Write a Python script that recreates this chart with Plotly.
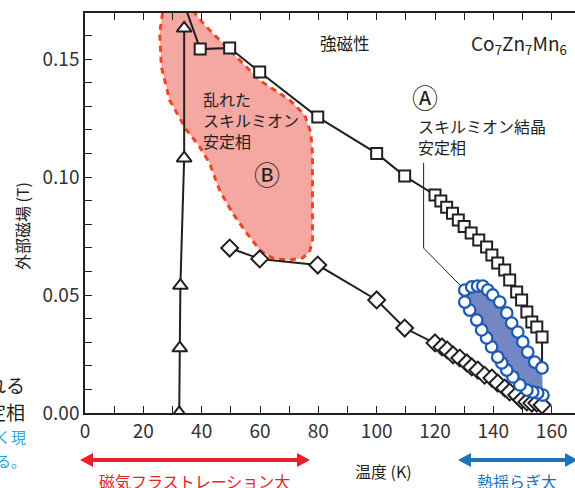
import plotly.graph_objects as go

# ---------------- data ----------------
tri_T = [32.3, 32.5, 32.7, 34.0, 34.0]
tri_H = [0.0, 0.0275, 0.054, 0.108, 0.163]

sq_T = [33.5, 39.5, 49.6, 59.9, 79.8, 100.0, 109.6, 120.0, 122.0, 124.0, 126.0, 128.0, 130.0,
        132.4, 135.0, 137.7, 139.5, 141.5, 143.9, 145.6, 148.0, 149.7, 151.5, 153.2, 154.9, 156.7]
sq_H = [0.175, 0.1542, 0.1547, 0.1445, 0.1254, 0.110, 0.1004, 0.0924, 0.0898, 0.0872, 0.0846, 0.0818, 0.0790,
        0.0763, 0.0733, 0.0703, 0.0670, 0.0636, 0.0606, 0.0564, 0.0513, 0.0479, 0.0428, 0.0386, 0.0364, 0.0322]
sq_tail_T = [156.7, 156.7]
sq_tail_H = [0.0322, 0.019]

dm_T = [49.6, 59.9, 79.8, 100.0, 109.6, 120.0, 122.4, 124.2, 126.2, 128.5, 130.9, 132.6, 134.7, 137.0,
        139.5, 141.5, 143.9, 145.6, 148.0, 149.7, 151.5, 153.2, 154.9, 156.7]
dm_H = [0.0699, 0.0653, 0.0627, 0.0479, 0.0360, 0.0297, 0.0280, 0.0267, 0.0246, 0.0233, 0.0212, 0.0195, 0.0182, 0.0160,
        0.0148, 0.0127, 0.0106, 0.0089, 0.0076, 0.0055, 0.0047, 0.0042, 0.0042, 0.0034]

ci_T = [130.2, 132.6, 134.6, 136.4, 138.1, 139.8, 142.2, 144.6, 146.3, 148.4, 150.1, 151.8, 154.2, 156.7,
        157.0, 155.2, 153.5, 151.5, 149.1, 146.7, 144.6, 142.9, 141.5, 139.4, 137.7, 136.0, 134.3, 131.9, 130.2]
ci_H = [0.0521, 0.0534, 0.0538, 0.0538, 0.0521, 0.0500, 0.0470, 0.0424, 0.0381, 0.0343, 0.0301, 0.0258, 0.0216, 0.0191,
        0.0076, 0.0085, 0.0089, 0.0097, 0.0119, 0.0153, 0.0182, 0.0212, 0.0237, 0.0280, 0.0318, 0.0352, 0.0394, 0.0436, 0.0470]

# disordered skyrmion region (B) outline
rb_T = [26.6, 25.6, 26.2, 29.0, 34.8, 38.9, 42.7, 46.1, 50.6, 55.4, 59.9, 62.3, 65.0, 70.2, 74.6, 77.0,
        78.0, 78.0, 78.0, 78.0, 77.4, 75.3, 70.2, 59.9, 51.3, 46.1, 41.0, 36.0, 34.0, 27.0, 26.6]
rb_H = [0.1695, 0.161, 0.1466, 0.1326, 0.1199, 0.1136, 0.1059, 0.0945, 0.0847, 0.0763, 0.0691, 0.0669, 0.0653, 0.0648, 0.0657, 0.0682,
        0.0733, 0.0818, 0.0958, 0.110, 0.119, 0.1263, 0.1326, 0.141, 0.1517, 0.158, 0.1644, 0.1720, 0.185, 0.185, 0.1695]

# pointer line for label (A)
ptr_T = [116.1, 116.1, 131.9]
ptr_H = [0.106, 0.0699, 0.050]

x_range = [0, 168]
y_range = [0, 0.1695]

# ---------------- figure ----------------
W, Hh = 575, 488
ML, MT, MB, MR = 85, 13, 75, 0
PW, PH = W - ML - MR, Hh - MT - MB
def px(x):
    return (x - ML) / PW
def py(y):
    return (Hh - MB - y) / PH

FONT = "Noto Sans CJK JP, Noto Sans, sans-serif"
DARK = "#231f20"

fig = go.Figure()

fig.add_trace(go.Scatter(x=rb_T, y=rb_H, mode="lines", fill="toself",
                         fillcolor="#f5a8a1",
                         line=dict(color="#ef4523", width=3, dash="6px,5px"),
                         hoverinfo="skip", showlegend=False))

fig.add_trace(go.Scatter(x=ptr_T, y=ptr_H, mode="lines",
                         line=dict(color=DARK, width=1), showlegend=False))

fig.add_trace(go.Scatter(x=ci_T, y=ci_H, mode="none", fill="toself",
                         fillcolor="#7586c4", showlegend=False))

fig.add_trace(go.Scatter(x=tri_T, y=tri_H, mode="lines+markers",
                         line=dict(color=DARK, width=2),
                         marker=dict(symbol="triangle-up", size=13, color="white",
                                     line=dict(color=DARK, width=2)),
                         showlegend=False))

fig.add_trace(go.Scatter(x=sq_tail_T, y=sq_tail_H, mode="lines",
                         line=dict(color=DARK, width=2), showlegend=False))

fig.add_trace(go.Scatter(x=sq_T, y=sq_H, mode="lines+markers",
                         line=dict(color=DARK, width=2),
                         marker=dict(symbol="square", size=11, color="white",
                                     line=dict(color=DARK, width=2)),
                         showlegend=False))

fig.add_trace(go.Scatter(x=dm_T, y=dm_H, mode="lines+markers",
                         line=dict(color=DARK, width=2),
                         marker=dict(symbol="diamond", size=13, color="white",
                                     line=dict(color=DARK, width=2)),
                         showlegend=False))

fig.add_trace(go.Scatter(x=ci_T, y=ci_H, mode="markers",
                         marker=dict(symbol="circle", size=11.5, color="white",
                                     line=dict(color="#1f5bb5", width=2.3)),
                         showlegend=False))

ann = []
def A(text, x, y, size, color=DARK, xanchor="center", align="center", angle=0):
    ann.append(dict(text=text, x=px(x), y=py(y), xref="paper", yref="paper", showarrow=False,
                    xanchor=xanchor, yanchor="middle", align=align, textangle=angle,
                    font=dict(family=FONT, size=size, color=color)))

A("強磁性", 345, 43, 16.5)
A("Co<sub>7</sub>Zn<sub>7</sub>Mn<sub>6</sub>", 569, 44, 19, xanchor="right")
A("乱れた<br>スキルミオン<br>安定相", 201, 120, 16, xanchor="left", align="left")
A("Ⓑ", 267, 173, 26)
A("Ⓐ", 425, 97, 26)
A("スキルミオン結晶<br>安定相", 416, 136, 16, xanchor="left", align="left")
A("外部磁場 (T)", 22, 226, 16, angle=-90)
A("温度 (K)", 383, 471, 16)
A("磁気フラストレーション大", 194, 481, 16, color="#e8202a")
A("熱揺らぎ大", 517, 481, 16, color="#1a73bb")
# texts cut off by the left page edge
A("される", 27, 384, 19, xanchor="right")
A("安定相", 27, 411, 19, xanchor="right")
A("多く現", 28, 436, 15, color="#29a6e2", xanchor="right")
A("在する。", 28, 460, 15, color="#29a6e2", xanchor="right")

# double-headed arrows
shapes = []
def darrow(x1, x2, y, color, w=4, hl=13, hw=7):
    shapes.append(dict(type="line", xref="paper", yref="paper",
                       x0=px(x1 + hl - 2), x1=px(x2 - hl + 2), y0=py(y), y1=py(y),
                       line=dict(color=color, width=w)))
    for tip, back in ((x1, x1 + hl), (x2, x2 - hl)):
        path = "M {} {} L {} {} L {} {} Z".format(px(tip), py(y), px(back), py(y - hw), px(back), py(y + hw))
        shapes.append(dict(type="path", xref="paper", yref="paper", path=path,
                           fillcolor=color, line=dict(color=color, width=0)))

darrow(80, 310, 460, "#e8202a")
darrow(458, 578, 460, "#1a73bb")

axis_common = dict(showline=True, linecolor=DARK, linewidth=1.5, ticks="inside",
                   tickcolor=DARK, tickwidth=1.2, showgrid=False, zeroline=False,
                   automargin=False,
                   tickfont=dict(family=FONT, size=19, color="#333333"))

fig.update_layout(
    width=W, height=Hh,
    margin=dict(l=ML, r=MR, t=MT, b=MB, pad=0, autoexpand=False),
    plot_bgcolor="white", paper_bgcolor="white",
    xaxis=dict(range=x_range, dtick=20, tick0=0, ticklen=7, mirror="ticks",
               minor=dict(dtick=10, ticks="inside", ticklen=7, tickcolor=DARK, tickwidth=1.2),
               **axis_common),
    yaxis=dict(range=y_range, dtick=0.05, tick0=0, tickformat=".2f", ticklen=7, mirror=False,
               minor=dict(dtick=0.01, ticks="inside", ticklen=7, tickcolor=DARK, tickwidth=1.2),
               **axis_common),
    annotations=ann, shapes=shapes,
)

fig.write_html("out.html", config={"displayModeBar": False},
               post_script="document.body.style.margin='0';document.body.style.overflow='hidden';")
